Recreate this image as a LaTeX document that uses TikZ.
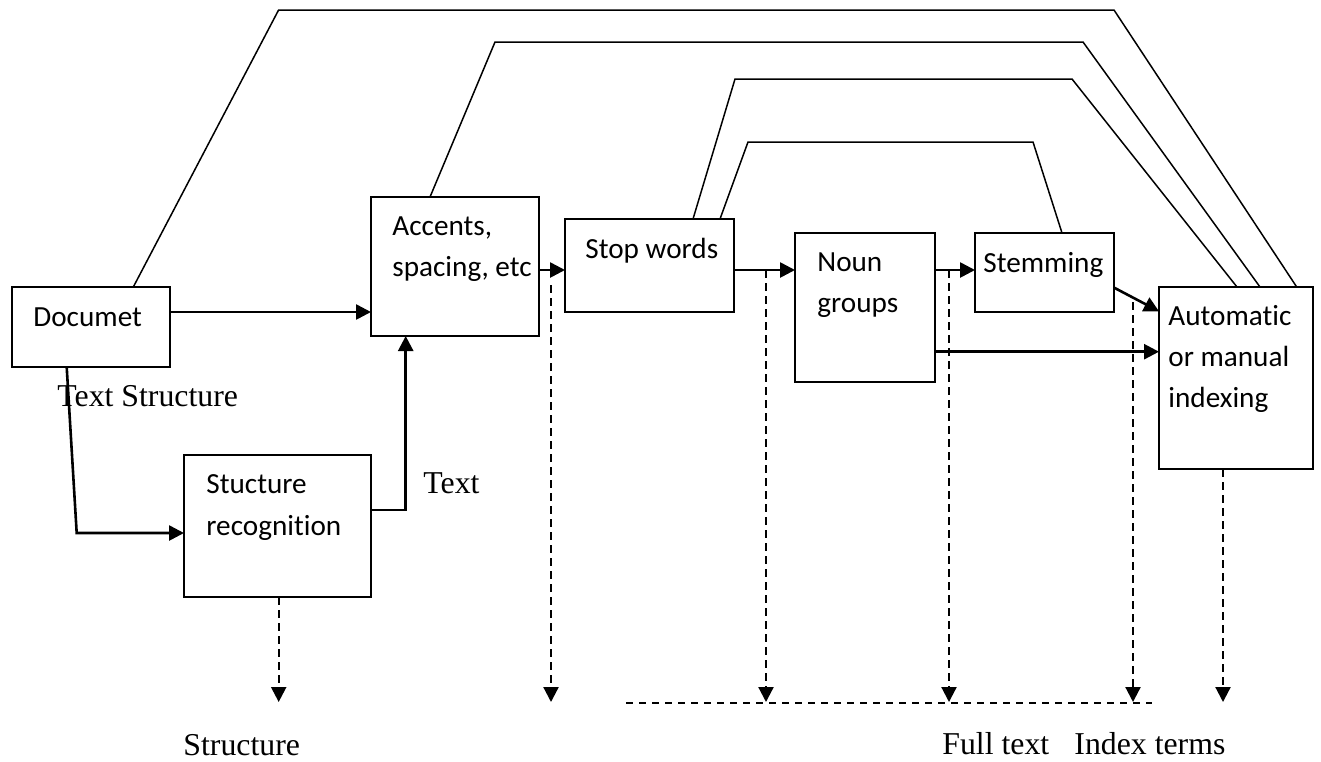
\documentclass[tikz,border=0pt]{standalone}
\usepackage{fontspec}
\setmainfont{Liberation Serif}
\newfontfamily\boxfont[Ligatures=NoCommon]{Carlito}
\usetikzlibrary{arrows.meta,calc}
\begin{document}
\begin{tikzpicture}[x=0.5pt,y=-0.5pt,
  box/.style={draw, line width=1pt, inner sep=0pt, outer sep=0pt, anchor=north west},
  btxt/.style={anchor=base west, inner sep=0pt, font=\boxfont\fontsize{14.6}{18}\selectfont},
  stxt/.style={anchor=base west, inner sep=0pt, font=\fontsize{15.9}{19}\selectfont},
  flow/.style={line width=1.3pt, -{Triangle[length=7.5pt,width=7.5pt]}},
  bypass/.style={line width=0.75pt},
  dashv/.style={line width=1.1pt, dash pattern=on 4pt off 2.5pt, -{Triangle[length=7.5pt,width=7.5pt]}},
  dashh/.style={line width=0.9pt, dash pattern=on 3.5pt off 3pt},
]
\useasboundingbox (0,0) rectangle (1321,761);

% boxes
\node[box, minimum width=79pt,  minimum height=40pt]   (doc)  at (12,287)  {};
\node[box, minimum width=84pt,  minimum height=69.5pt] (acc)  at (371,197) {};
\node[box, minimum width=84.5pt,minimum height=46.5pt] (stop) at (565,219) {};
\node[box, minimum width=70pt,  minimum height=74.5pt] (noun) at (795,233) {};
\node[box, minimum width=69.5pt,minimum height=39.5pt] (stem) at (975,233) {};
\node[box, minimum width=77pt,  minimum height=91pt]   (auto) at (1159,287) {};
\node[box, minimum width=93.5pt,minimum height=71pt]   (srec) at (184,455) {};

% box texts
\node[btxt] (docT)   at (33,326)   {Documet};
\node[btxt] (accT1)  at (392,235)  {Accents,};
\node[btxt] (accT2)  at (392,276)  {spacing, etc};
\node[btxt] (stopT)  at (585,258)  {Stop words};
\node[btxt] (nounT1) at (817,271)  {Noun};
\node[btxt] (nounT2) at (817,312)  {groups};
\node[btxt] (stemT)  at (983,272)  {Stemming};
\node[btxt] (autoT1) at (1168,325) {Automatic};
\node[btxt] (autoT2) at (1168,366) {or manual};
\node[btxt] (autoT3) at (1168,407) {indexing};
\node[btxt] (srecT1) at (206,493)  {Stucture};
\node[btxt] (srecT2) at (206,535)  {recognition};

% serif labels
\node[stxt] (lTS)     at (57,406)   {Text Structure};
\node[stxt] (lText)   at (423,493)  {Text};
\node[stxt] (lStruct) at (183,755)  {Structure};
\node[stxt] (lFull)   at (942,754)  {Full text};
\node[stxt] (lIndex)  at (1074,754) {Index terms};

% helper coordinates
\coordinate (r1) at (0,270);
\coordinate (r2) at (0,351.7);
\coordinate (e1) at (76.7,533);

% solid flow arrows
\draw[flow] ($(doc.north east)+(0,25)$) coordinate (d1) -- (d1 -| acc.west);
\draw[flow] ($(doc.south west)+(54.7,0)$) -- (e1) -- (e1 -| srec.west);
\draw[flow] ($(srec.north east)+(0,55)$) -- ++(34.7,0) coordinate (e2) -- (e2 |- acc.south);
\draw[flow] (acc.east |- r1) -- (stop.west |- r1);
\draw[flow] (stop.east |- r1) -- (noun.west |- r1);
\draw[flow] (noun.east |- r1) -- (stem.west |- r1);
\draw[flow] ($(stem.north east)+(0,54.6)$) -- ($(auto.north west)+(0,24.3)$);
\draw[flow] (noun.east |- r2) -- (auto.west |- r2);

% bypass lines over the top
\coordinate (b1a) at (278.6,10);  \coordinate (b1b) at (1114,10);
\coordinate (b2a) at (495,42);    \coordinate (b2b) at (1083,42);
\coordinate (b3a) at (735,79);    \coordinate (b3b) at (1072,79);
\coordinate (b4a) at (748,142);   \coordinate (b4b) at (1033,142);
\draw[bypass] ($(doc.north west)+(121.3,0)$) -- (b1a) -- (b1b) -- ($(auto.north west)+(137.7,0)$);
\draw[bypass] ($(acc.north west)+(59,0)$) -- (b2a) -- (b2b) -- ($(auto.north west)+(101,0)$);
\draw[bypass] ($(stop.north west)+(128,0)$) -- (b3a) -- (b3b) -- ($(auto.north west)+(78,0)$);
\draw[bypass] ($(stop.north west)+(155,0)$) -- (b4a) -- (b4b) -- ($(stem.north west)+(87,0)$);

% dashed outputs
\coordinate (v0e) at (278.7,702);
\coordinate (v1s) at (551,285);   \coordinate (v1e) at (551,702);
\coordinate (v2s) at (766,270);   \coordinate (v2e) at (766,702);
\coordinate (v3s) at (949,270);   \coordinate (v3e) at (949,702);
\coordinate (v4s) at (1133,302);  \coordinate (v4e) at (1133,702);
\coordinate (v5e) at (1223,702);
\draw[dashv] ($(srec.south west)+(94.7,0)$) -- (v0e);
\draw[dashv] (v1s) -- (v1e);
\draw[dashv] (v2s) -- (v2e);
\draw[dashv] (v3s) -- (v3e);
\draw[dashv] (v4s) -- (v4e);
\draw[dashv] ($(auto.south west)+(64,0)$) -- (v5e);
\coordinate (h1) at (626,703); \coordinate (h2) at (1152,703);
\draw[dashh] (h1) -- (h2);
\end{tikzpicture}
\end{document}
